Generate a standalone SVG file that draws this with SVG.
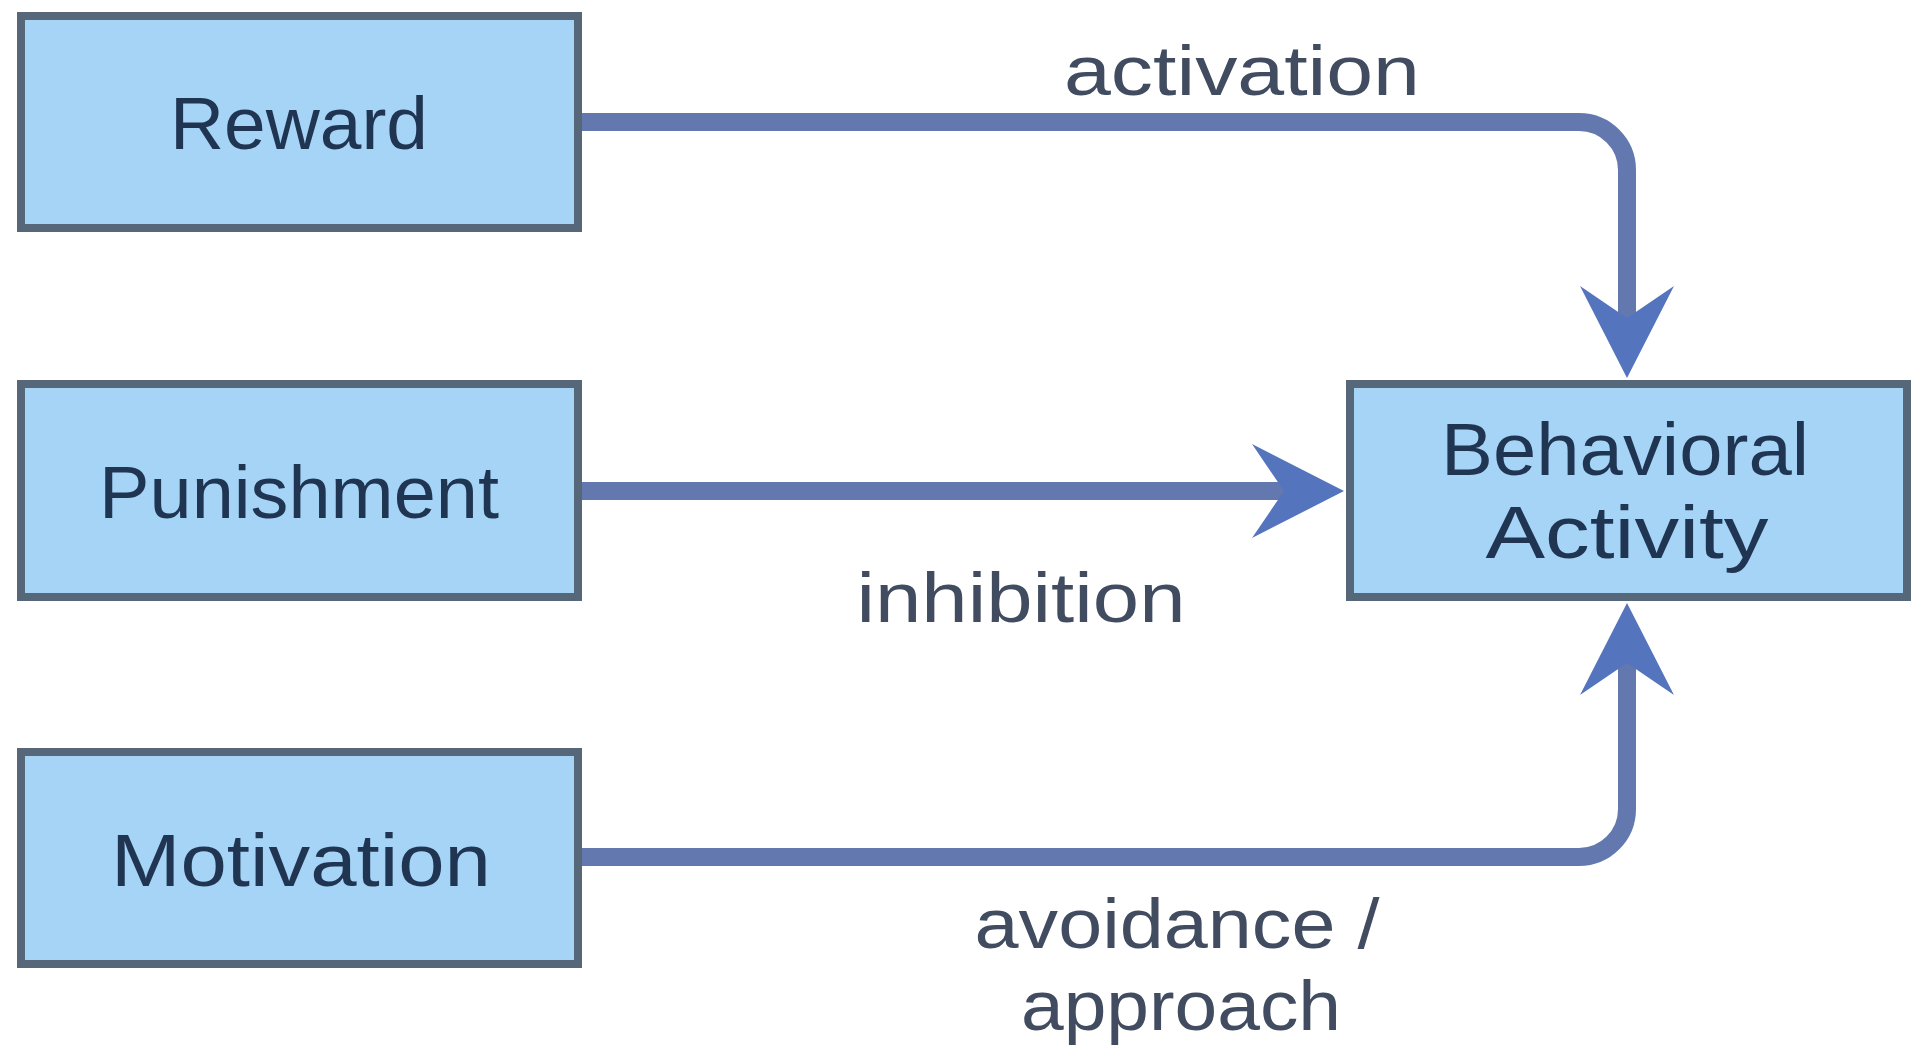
<svg xmlns="http://www.w3.org/2000/svg" width="1911" height="1055" viewBox="0 0 1911 1055">
  <style>
    .box { fill: #a6d4f7; stroke: #56677a; stroke-width: 8; }
    .nlabel { font-family: "Liberation Sans", Arial, sans-serif; font-size: 75px; fill: #1f3552; text-anchor: middle; }
    .elabel { font-family: "Liberation Sans", Arial, sans-serif; font-size: 70px; fill: #414c60; text-anchor: middle; }
    .conn { fill: none; stroke: #6478b0; stroke-width: 18; }
  </style>
  <defs>
    <marker id="arrow" viewBox="-95 -50 100 100" markerWidth="100" markerHeight="100" refX="-60" refY="0" orient="auto" markerUnits="userSpaceOnUse">
      <path d="M 0 0 L -92 -47 L -60 0 L -92 47 Z" fill="#5474bd"/>
    </marker>
  </defs>
  <rect width="1911" height="1055" fill="#ffffff"/>

  <g id="connectors">
    <path class="conn" d="M 578 122 H 1579 A 48 48 0 0 1 1627 170 V 318" marker-end="url(#arrow)"/>
    <path class="conn" d="M 578 491 H 1284" marker-end="url(#arrow)"/>
    <path class="conn" d="M 578 857 H 1579 A 48 48 0 0 0 1627 809 V 663" marker-end="url(#arrow)"/>
    <text class="elabel" x="1242" y="95" textLength="356" lengthAdjust="spacingAndGlyphs">activation</text>
    <text class="elabel" x="1021" y="622" textLength="329" lengthAdjust="spacingAndGlyphs">inhibition</text>
    <text class="elabel" x="1177" y="948" textLength="405" lengthAdjust="spacingAndGlyphs">avoidance /</text>
    <text class="elabel" x="1181" y="1030" textLength="320" lengthAdjust="spacingAndGlyphs">approach</text>
  </g>

  <g id="reward">
    <rect class="box" x="21" y="16" width="557" height="212"/>
    <text class="nlabel" x="299" y="149" textLength="258" lengthAdjust="spacingAndGlyphs">Reward</text>
  </g>
  <g id="punishment">
    <rect class="box" x="21" y="384" width="557" height="213"/>
    <text class="nlabel" x="299" y="518" textLength="400" lengthAdjust="spacingAndGlyphs">Punishment</text>
  </g>
  <g id="motivation">
    <rect class="box" x="21" y="752" width="557" height="212"/>
    <text class="nlabel" x="301" y="886" textLength="380" lengthAdjust="spacingAndGlyphs">Motivation</text>
  </g>
  <g id="behavioral-activity">
    <rect class="box" x="1350" y="384" width="557" height="213"/>
    <text class="nlabel" x="1625" y="475" textLength="368" lengthAdjust="spacingAndGlyphs">Behavioral</text>
    <text class="nlabel" x="1627" y="558" textLength="283" lengthAdjust="spacingAndGlyphs">Activity</text>
  </g>
</svg>
